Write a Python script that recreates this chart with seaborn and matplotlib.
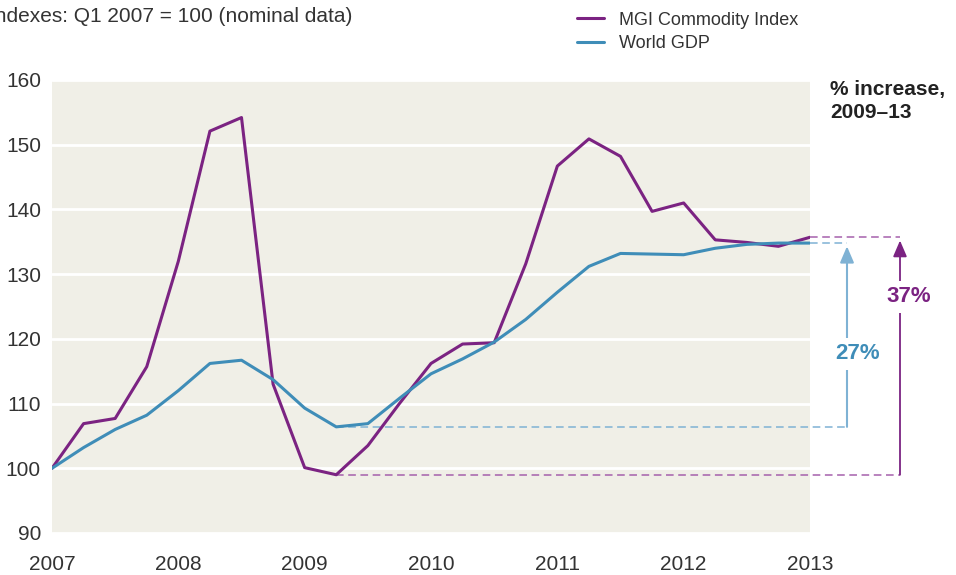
import pandas as pd
import numpy as np
import matplotlib
matplotlib.use('Agg')
import matplotlib.pyplot as plt
import seaborn as sns

# Quarterly index values, Q1 2007 = 100
quarters = [2007 + q / 4 for q in range(25)]
mgi = [100.0, 106.9, 107.7, 115.7, 132.0, 152.1, 154.2, 113.0, 100.1, 99.0,
       103.5, 110.0, 116.2, 119.2, 119.4, 131.6, 146.7, 150.9, 148.2, 139.7,
       141.0, 135.3, 134.9, 134.3, 135.7]
gdp = [100.0, 103.2, 106.0, 108.2, 112.0, 116.2, 116.7, 113.7, 109.3, 106.4,
       106.9, 110.8, 114.6, 116.9, 119.5, 123.0, 127.2, 131.2, 133.2, 133.1,
       133.0, 134.0, 134.6, 134.8, 134.8]
series_names = ['MGI Commodity Index', 'World GDP']
year_ticks = [2007, 2008, 2009, 2010, 2011, 2012, 2013]
y_ticks = [90, 100, 110, 120, 130, 140, 150, 160]

purple = '#7B2382'
blue = '#3F8DB8'
light_blue = '#7FB2D4'
light_purple = '#A560AC'
bg = '#F0EFE7'
txt = '#333333'

df = pd.DataFrame({
    'Quarter': quarters * 2,
    'Index': mgi + gdp,
    'Series': [series_names[0]] * len(mgi) + [series_names[1]] * len(gdp),
})

sns.set_style('white')
plt.rcParams['font.family'] = ['Liberation Sans', 'DejaVu Sans']

fig = plt.figure(figsize=(9.56, 5.75), dpi=100)
ax = fig.add_axes([52 / 956, 1 - 533 / 575, (810 - 52) / 956, (533 - 80) / 575])
ax.set_facecolor(bg)

sns.lineplot(data=df, x='Quarter', y='Index', hue='Series',
             palette={series_names[0]: purple, series_names[1]: blue},
             linewidth=2.2, ax=ax, zorder=3)

ax.set_xlim(2007, 2013)
ax.set_ylim(90, 160)
ax.set_yticks(y_ticks)
ax.set_xticks(year_ticks)
ax.set_xticklabels([str(y) for y in year_ticks])
ax.grid(axis='y', color='white', linewidth=2.0)
ax.grid(axis='x', visible=False)
ax.set_axisbelow(True)
ax.set_xlabel('')
ax.set_ylabel('')
for s in ax.spines.values():
    s.set_visible(False)
ax.tick_params(axis='y', length=0, pad=8, labelsize=15, labelcolor=txt)
ax.tick_params(axis='x', direction='in', length=8, width=0.8, color='#444444',
               pad=16, labelsize=15, labelcolor=txt)
# hide the edge tick marks at 2007 and 2013
xt = ax.xaxis.get_major_ticks()
xt[0].tick1line.set_visible(False)
xt[-1].tick1line.set_visible(False)

# legend
handles, labels = ax.get_legend_handles_labels()
ax.legend(handles, labels, loc='upper left', bbox_to_anchor=(561 / 956, 1.008),
          bbox_transform=fig.transFigure, frameon=False, fontsize=13,
          handlelength=1.5, handletextpad=0.8, labelspacing=0.35,
          labelcolor=txt)
for h in ax.get_legend().get_lines():
    h.set_linewidth(2.2)

# subtitle (clipped on the left like the original)
fig.text(-11 / 956, 1 - 17 / 575, 'Indexes: Q1 2007 = 100 (nominal data)',
         fontsize=15, color=txt, va='center', ha='left')
fig.text(830 / 956, 1 - 101 / 575, '% increase,\n2009–13', fontsize=15,
         fontweight='bold', color='#222222', va='center', ha='left',
         linespacing=1.25)

# bracket annotations for 2009-13 increase
low_q = quarters[9]
end_q = quarters[-1]
x_blue = 2007 + (847 - 52) / ((810 - 52) / 6)
x_purple = 2007 + (900 - 52) / ((810 - 52) / 6)

ax.plot([low_q, x_blue], [gdp[9], gdp[9]], ls=(0, (5, 3)), lw=1.1,
        color=light_blue, clip_on=False, zorder=2)
ax.plot([end_q, x_blue], [gdp[-1], gdp[-1]], ls=(0, (5, 3)), lw=1.1,
        color=light_blue, clip_on=False, zorder=2)
ax.plot([low_q, x_purple], [mgi[9], mgi[9]], ls=(0, (5, 3)), lw=1.1,
        color=light_purple, clip_on=False, zorder=2)
ax.plot([end_q, x_purple], [mgi[-1], mgi[-1]], ls=(0, (5, 3)), lw=1.1,
        color=light_purple, clip_on=False, zorder=2)

ax.annotate('', xy=(x_blue, gdp[-1] - 0.5), xytext=(x_blue, gdp[9]),
            arrowprops=dict(arrowstyle='-|>,head_length=0.7,head_width=0.3',
                            color=light_blue, lw=1.5, shrinkA=0, shrinkB=0,
                            mutation_scale=14),
            annotation_clip=False)
ax.annotate('', xy=(x_purple, mgi[-1] - 0.5), xytext=(x_purple, mgi[9]),
            arrowprops=dict(arrowstyle='-|>,head_length=0.7,head_width=0.3',
                            color=purple, lw=1.3, shrinkA=0, shrinkB=0,
                            mutation_scale=14),
            annotation_clip=False)

pct_blue = round((gdp[-1] / gdp[9] - 1) * 100)
pct_purple = round((mgi[-1] / mgi[9] - 1) * 100)
ax.text(x_blue + 0.08, 117.7, f'{pct_blue}%', color=blue, fontsize=16,
        fontweight='bold', ha='center', va='center', clip_on=False,
        bbox=dict(facecolor='white', edgecolor='none', pad=4))
ax.text(x_purple + 0.07, 126.5, f'{pct_purple}%', color=purple, fontsize=16,
        fontweight='bold', ha='center', va='center', clip_on=False,
        bbox=dict(facecolor='white', edgecolor='none', pad=4))

fig.savefig('out.png', dpi=100)
